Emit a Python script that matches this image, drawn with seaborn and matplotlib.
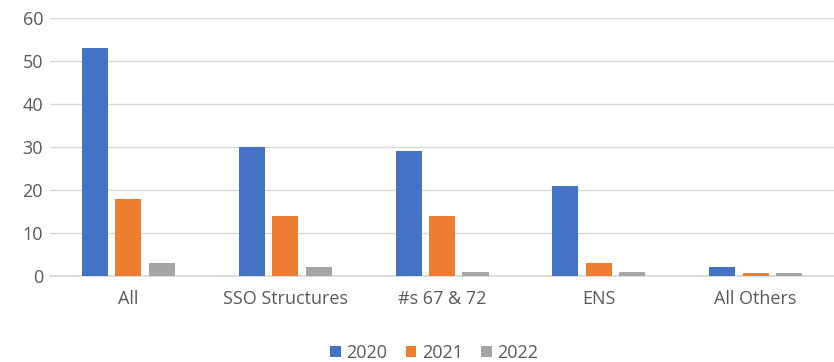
import matplotlib
matplotlib.use("Agg")
import matplotlib.pyplot as plt
import seaborn as sns
import pandas as pd

categories = ["All", "SSO Structures", "#s 67 & 72", "ENS", "All Others"]
years = ["2020", "2021", "2022"]
v2020 = [53, 30, 29, 21, 2]
v2021 = [18, 14, 14, 3, 0.6]
v2022 = [3, 2, 1, 1, 0.6]

rows = []
for yr, vals in zip(years, [v2020, v2021, v2022]):
    for c, v in zip(categories, vals):
        rows.append({"cat": c, "year": yr, "value": v})
df = pd.DataFrame(rows)

sns.set_theme(style="white")
plt.rcParams['font.family'] = ['Open Sans', 'DejaVu Sans']

fig = plt.figure(figsize=(8.34, 3.62), dpi=100)
ax = fig.add_axes([0.06, 0.2376, 0.94, 0.7124])
palette = {"2020": "#4472C4", "2021": "#ED7D31", "2022": "#A5A5A5"}
sns.barplot(data=df, x="cat", y="value", hue="year", palette=palette,
            width=0.64, gap=0.22, ax=ax, saturation=1, legend=True,
            linewidth=0)

ax.set_ylim(0, 60)
ax.set_yticks(range(0, 61, 10))
ax.yaxis.grid(True, color="#D9D9D9", linewidth=1)
ax.set_axisbelow(True)
for s in ["top", "right", "left"]:
    ax.spines[s].set_visible(False)
ax.spines["bottom"].set_color("#D9D9D9")
ax.spines["bottom"].set_zorder(0)
ax.set_xlabel("")
ax.set_ylabel("")
ax.tick_params(axis="both", length=0, colors="#595959", labelsize=13)
ax.tick_params(axis="x", pad=10)
ax.tick_params(axis="y", pad=5)
ax.set_xlim(-0.5, 4.5)

ax.legend(loc="upper center", bbox_to_anchor=(0.49, -0.2), ncol=3, frameon=False,
          fontsize=13, handlelength=0.6, handleheight=0.6, handletextpad=0.3,
          columnspacing=1.0, labelcolor="#595959")

fig.savefig("out.png", dpi=100)
